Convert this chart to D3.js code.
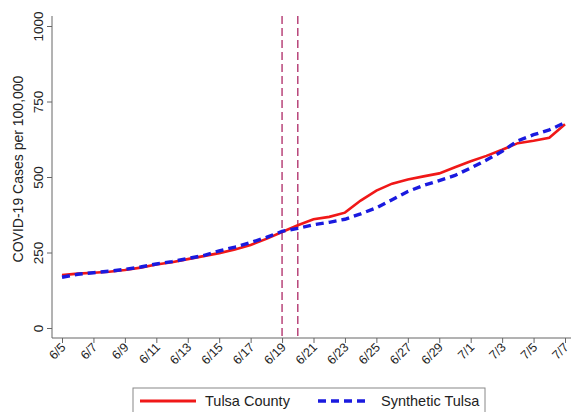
<!DOCTYPE html>
<html lang="en">
<head>
  <meta charset="UTF-8" />
  <title>Tulsa County vs Synthetic Tulsa</title>
  <script src="https://d3js.org/d3.v7.min.js"></script>
  <style>
    body { margin: 0; padding: 0; background: #fff; }
    svg { font-family: "Liberation Sans", Arial, sans-serif; }
    .axis text { fill: #222; }
    .axis line { stroke: #666; }
  </style>
</head>
<body>
  <div id="chart"></div>
  <script>
    // daily dates, 6/5 .. 7/7
    const days = ["6/5","6/6","6/7","6/8","6/9","6/10","6/11","6/12","6/13","6/14","6/15","6/16",
      "6/17","6/18","6/19","6/20","6/21","6/22","6/23","6/24","6/25","6/26","6/27","6/28","6/29","6/30",
      "7/1","7/2","7/3","7/4","7/5","7/6","7/7"];

    const tulsaCounty = [175,180,183,186,192,200,210,218,228,238,248,260,
      275,295,318,340,360,368,382,422,455,478,492,502,512,532,
      552,570,590,612,620,630,675];

    const syntheticTulsa = [168,178,183,188,194,202,212,220,230,240,255,268,
      283,300,320,330,342,350,360,378,398,425,452,472,488,505,
      530,556,585,620,640,656,680];

    const yTicks = [0, 250, 500, 750, 1000];
    const markerDays = ["6/19", "6/20"];

    const width = 573, height = 412;

    const svg = d3.select("#chart").append("svg")
      .attr("width", width)
      .attr("height", height);

    const x = d3.scaleLinear().domain([0, days.length - 1]).range([62, 565]);
    const y = d3.scaleLinear().domain([0, 1000]).range([328, 26]);

    const axisY0 = y(0) + 10;   // x axis baseline
    const axisX0 = 52;          // y axis position

    // y axis
    const yAxis = svg.append("g")
      .attr("class", "axis")
      .attr("transform", `translate(${axisX0},0)`)
      .call(d3.axisLeft(y).tickValues(yTicks).tickFormat(d3.format("d")).tickSize(5));
    yAxis.select(".domain").remove();
    yAxis.selectAll("text")
      .attr("x", null)
      .attr("dy", null)
      .attr("font-size", 13.5)
      .attr("text-anchor", "middle")
      .attr("transform", "translate(-9,0) rotate(-90)");

    // x axis
    const xTickIdx = d3.range(0, days.length, 2);
    const xAxis = svg.append("g")
      .attr("class", "axis")
      .attr("transform", `translate(0,${axisY0})`)
      .call(d3.axisBottom(x).tickValues(xTickIdx).tickFormat(i => days[i]).tickSize(5));
    xAxis.select(".domain").remove();
    xAxis.selectAll("text")
      .attr("x", null)
      .attr("y", null)
      .attr("dy", null)
      .attr("font-size", 12.5)
      .attr("text-anchor", "end")
      .attr("transform", "translate(4,10) rotate(-45)");

    // axis lines
    svg.append("line")
      .attr("x1", axisX0).attr("x2", axisX0)
      .attr("y1", y(1000) - 10).attr("y2", axisY0)
      .attr("stroke", "#666");
    svg.append("line")
      .attr("x1", axisX0).attr("x2", x(days.length - 1) + 6)
      .attr("y1", axisY0).attr("y2", axisY0)
      .attr("stroke", "#666");

    // y title
    svg.append("text")
      .attr("transform", `translate(23,${(y(0) + y(1000)) / 2 - 8}) rotate(-90)`)
      .attr("text-anchor", "middle")
      .attr("font-size", 14)
      .attr("fill", "#222")
      .text("COVID-19 Cases per 100,000");

    // vertical marker lines
    svg.selectAll(".marker")
      .data(markerDays)
      .enter().append("line")
      .attr("class", "marker")
      .attr("x1", d => x(days.indexOf(d)))
      .attr("x2", d => x(days.indexOf(d)))
      .attr("y1", y(1000) - 10)
      .attr("y2", axisY0)
      .attr("stroke", "#b8457a")
      .attr("stroke-width", 1.5)
      .attr("stroke-dasharray", "8,4");

    const line = d3.line()
      .x((d, i) => x(i))
      .y(d => y(d));

    svg.append("path")
      .datum(tulsaCounty)
      .attr("fill", "none")
      .attr("stroke", "#f01818")
      .attr("stroke-width", 2.6)
      .attr("d", line);

    svg.append("path")
      .datum(syntheticTulsa)
      .attr("fill", "none")
      .attr("stroke", "#1a1adf")
      .attr("stroke-width", 3.4)
      .attr("stroke-dasharray", "8,5")
      .attr("d", line);

    // legend
    const legend = svg.append("g");
    legend.append("rect")
      .attr("x", 133).attr("y", 388)
      .attr("width", 352).attr("height", 34)
      .attr("fill", "#fff")
      .attr("stroke", "#888");
    legend.append("line")
      .attr("x1", 140).attr("x2", 196)
      .attr("y1", 401).attr("y2", 401)
      .attr("stroke", "#f01818").attr("stroke-width", 3);
    legend.append("text")
      .attr("x", 205).attr("y", 406)
      .attr("font-size", 14.5).attr("fill", "#222")
      .text("Tulsa County");
    legend.append("line")
      .attr("x1", 318).attr("x2", 370)
      .attr("y1", 401).attr("y2", 401)
      .attr("stroke", "#1a1adf").attr("stroke-width", 3.4)
      .attr("stroke-dasharray", "8,5");
    legend.append("text")
      .attr("x", 381).attr("y", 406)
      .attr("font-size", 14.5).attr("fill", "#222")
      .text("Synthetic Tulsa");
  </script>
</body>
</html>
